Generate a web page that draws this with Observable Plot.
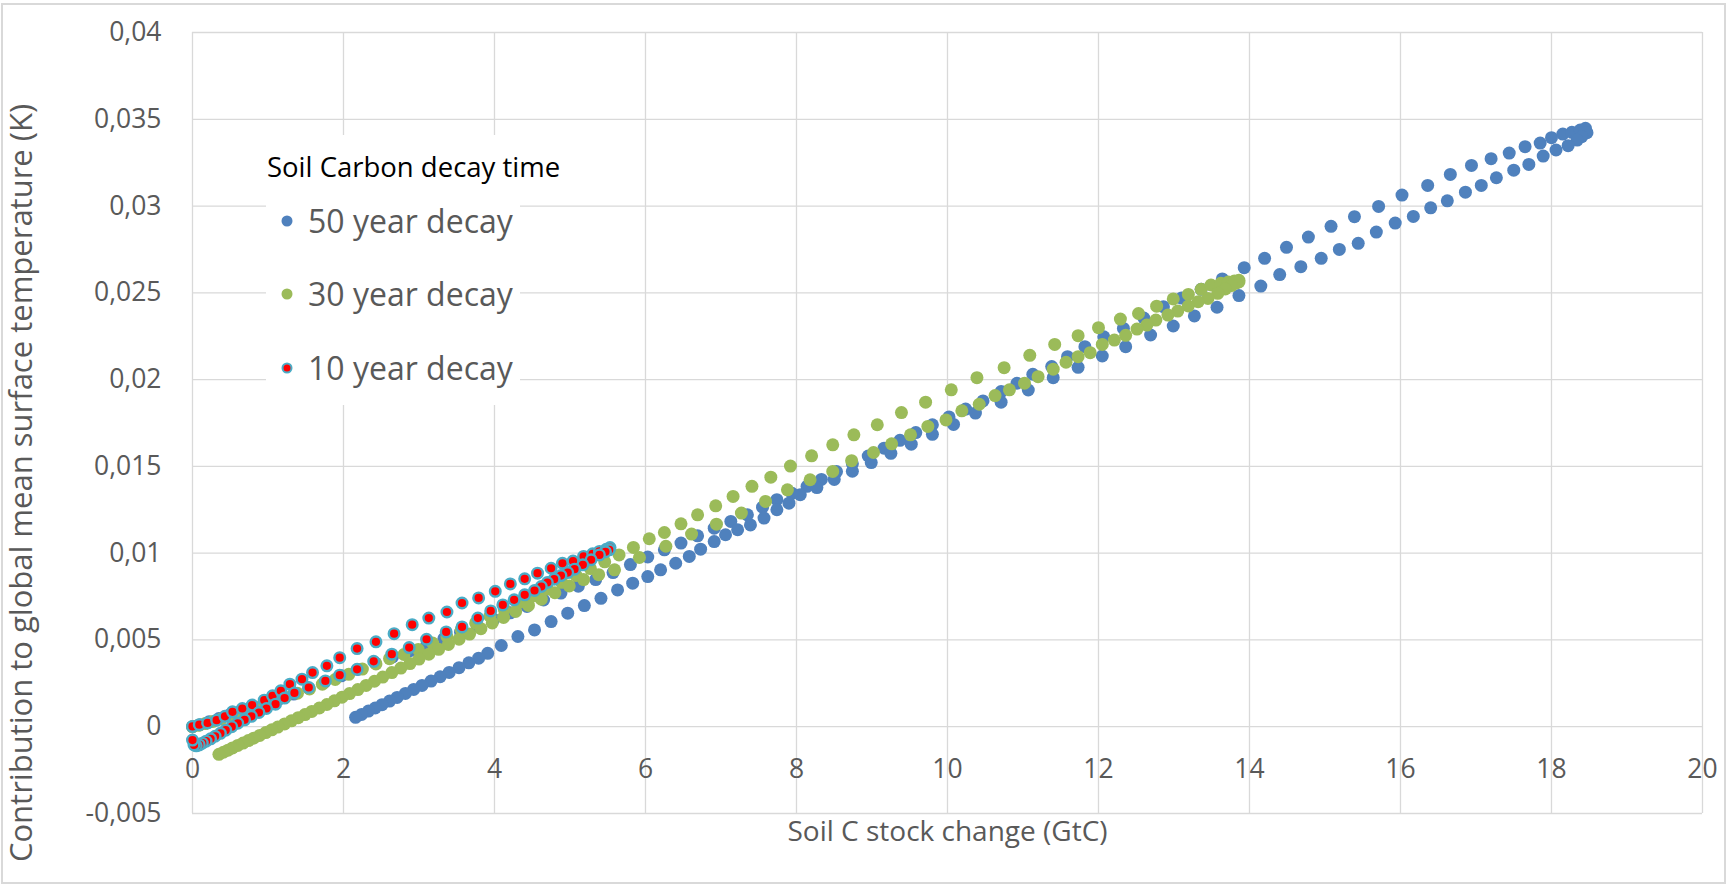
<!DOCTYPE html>
<html><head><meta charset="utf-8">
<script src="https://cdn.jsdelivr.net/npm/d3@7"></script>
<script src="https://cdn.jsdelivr.net/npm/@observablehq/plot@0.6"></script>
<style>
body{margin:0;background:#fff;font-family:"Open Sans",sans-serif;}
#wrap{position:relative;width:1728px;height:886px;overflow:hidden;background:#fff;}
#wrap svg{position:absolute;left:0;top:0;}
#border{position:absolute;left:1px;top:3px;width:1721px;height:877px;border:2px solid #d9d9d9;pointer-events:none;}
#legend{position:absolute;left:266px;top:135px;width:254px;height:270px;background:#fff;}
.lg{position:absolute;white-space:nowrap;transform:translateY(-50%);line-height:1;}
.lgt{font-size:27.5px;color:#000;}
.lgi{font-size:32px;color:#595959;}
.mk{position:absolute;border-radius:50%;transform:translate(-50%,-50%);}
</style></head>
<body><div id="wrap"><div id="border"></div></div>
<script>
// ---- data ----
const xTicks = [0, 2, 4, 6, 8, 10, 12, 14, 16, 18, 20];
const yTicks = [-0.005, 0, 0.005, 0.01, 0.015, 0.02, 0.025, 0.03, 0.035, 0.04];
const xTitle = "Soil C stock change (GtC)";
const yTitle = "Contribution to global mean surface temperature (K)";
const legendTitle = "Soil Carbon decay time";
const seriesNames = ["50 year decay", "30 year decay", "10 year decay"];

// 50 year decay: rising branch (upper row), then return branch (lower, dense at end)
const rise50 = [[0.0,0.0],[0.1,0.00012],[0.22,0.00028],[0.35,0.00047],[0.49,0.00068],[0.64,0.0009],[0.8,0.00113],[0.97,0.00134],[1.15,0.0016],[1.34,0.00188],[1.54,0.00222],[1.75,0.00257],[1.97,0.00293],[2.19,0.0033],[2.42,0.00368],[2.65,0.00403],[2.88,0.00438],[3.1,0.00468],[3.33,0.00508],[3.55,0.00545],[3.77,0.00582],[3.99,0.00619],[4.21,0.00656],[4.43,0.00693],[4.65,0.0073],[4.88,0.0077],[5.11,0.0081],[5.34,0.00848],[5.57,0.00888],[5.8,0.00934],[6.03,0.00978],[6.25,0.01019],[6.47,0.01058],[6.69,0.011],[6.91,0.01144],[7.13,0.01183],[7.35,0.01221],[7.55,0.01265],[7.74,0.01308],[7.94,0.01345],[8.14,0.01385],[8.33,0.01425],[8.53,0.0147],[8.74,0.01515],[8.95,0.0156],[9.16,0.01605],[9.37,0.0165],[9.58,0.01695],[9.8,0.0174],[10.02,0.01785],[10.24,0.0183],[10.47,0.01877],[10.71,0.01931],[10.92,0.01979],[11.13,0.02031],[11.38,0.02075],[11.59,0.02132],[11.82,0.0219],[12.07,0.02247],[12.33,0.02295],[12.6,0.02355],[12.86,0.0242],[13.1,0.0247],[13.36,0.0252],[13.64,0.0258],[13.93,0.02645],[14.2,0.02699],[14.49,0.02762],[14.78,0.02821],[15.08,0.02883],[15.39,0.02939],[15.71,0.02998],[16.02,0.03063],[16.36,0.03119],[16.66,0.03182],[16.94,0.03234],[17.2,0.03273],[17.44,0.03305],[17.65,0.03342],[17.85,0.03363],[18.0,0.03394],[18.15,0.03415],[18.27,0.03425],[18.38,0.03438],[18.45,0.03448]];
const return50 = [[18.47,0.03423],[18.4,0.034],[18.34,0.0338],[18.22,0.03348],[18.06,0.03323],[17.89,0.03288],[17.7,0.0324],[17.5,0.03207],[17.27,0.03163],[17.07,0.03119],[16.86,0.0308],[16.62,0.0303],[16.4,0.0299],[16.17,0.0294],[15.93,0.02902],[15.68,0.0285],[15.44,0.02785],[15.19,0.0275],[14.95,0.02699],[14.68,0.02651],[14.4,0.02605],[14.15,0.02539],[13.86,0.02484],[13.57,0.02417],[13.27,0.02367],[12.99,0.02309],[12.69,0.02257],[12.36,0.0219],[12.05,0.02136],[11.73,0.02071],[11.4,0.02011],[11.07,0.0194],[10.71,0.0187],[10.37,0.01807],[10.08,0.01742],[9.8,0.01685],[9.52,0.01628],[9.25,0.01575],[8.99,0.01522],[8.74,0.01472],[8.5,0.01425],[8.27,0.01378],[8.05,0.01337],[7.9,0.01288],[7.74,0.0125],[7.57,0.01202],[7.39,0.01163],[7.22,0.01135],[7.06,0.01106],[6.91,0.01067],[6.73,0.01023],[6.58,0.00981],[6.4,0.00942],[6.2,0.00904],[6.03,0.00865],[5.83,0.00827],[5.63,0.00788],[5.41,0.0074],[5.19,0.00698],[4.97,0.00654],[4.75,0.00606],[4.53,0.00558],[4.31,0.0052],[4.09,0.00468],[3.91,0.00423],[3.79,0.00395],[3.66,0.00368],[3.53,0.0034],[3.4,0.00313],[3.28,0.00288],[3.16,0.00263],[3.04,0.00238],[2.93,0.00215],[2.82,0.00192],[2.71,0.00169],[2.61,0.00148],[2.51,0.00127],[2.42,0.00108],[2.33,0.0009],[2.24,0.00071],[2.16,0.00054]];

// 30 year decay
const rise30 = [[0.0,0.0],[0.08,0.00008],[0.17,0.00018],[0.27,0.0003],[0.38,0.00044],[0.5,0.0006],[0.63,0.00079],[0.77,0.00099],[0.92,0.00122],[1.07,0.00145],[1.23,0.0017],[1.39,0.00193],[1.55,0.00218],[1.72,0.00245],[1.89,0.00272],[2.07,0.00302],[2.25,0.00332],[2.43,0.00362],[2.61,0.00392],[2.8,0.00416],[2.99,0.00445],[3.18,0.00482],[3.37,0.0052],[3.56,0.00559],[3.75,0.00598],[3.94,0.00637],[4.13,0.00676],[4.32,0.00715],[4.51,0.00754],[4.7,0.00793],[4.89,0.00832],[5.08,0.00872],[5.27,0.00911],[5.46,0.0095],[5.65,0.0099],[5.84,0.01033],[6.05,0.01083],[6.25,0.01119],[6.47,0.01169],[6.69,0.01221],[6.93,0.01273],[7.16,0.01327],[7.41,0.01385],[7.66,0.01438],[7.92,0.01502],[8.2,0.01561],[8.48,0.01624],[8.76,0.01682],[9.07,0.0174],[9.39,0.0181],[9.71,0.0187],[10.05,0.01941],[10.39,0.02011],[10.75,0.02069],[11.09,0.0214],[11.42,0.02203],[11.73,0.02253],[12.0,0.02299],[12.29,0.02349],[12.53,0.02381],[12.77,0.02423],[12.99,0.02465],[13.19,0.02491],[13.36,0.0252],[13.49,0.02545],[13.62,0.02555],[13.72,0.02562],[13.8,0.02568],[13.86,0.02572]];
const return30 = [[13.86,0.02563],[13.82,0.02556],[13.76,0.02542],[13.68,0.02522],[13.58,0.02497],[13.45,0.02468],[13.32,0.02449],[13.19,0.02424],[13.05,0.02395],[12.92,0.02372],[12.76,0.02343],[12.64,0.02314],[12.51,0.02291],[12.36,0.02255],[12.21,0.02228],[12.05,0.02203],[11.89,0.02155],[11.73,0.02132],[11.57,0.021],[11.4,0.0206],[11.2,0.02017],[11.02,0.01979],[10.82,0.01941],[10.63,0.01908],[10.42,0.01858],[10.19,0.0182],[9.98,0.01768],[9.74,0.0173],[9.51,0.01682],[9.26,0.0163],[9.02,0.0158],[8.73,0.01533],[8.48,0.01471],[8.18,0.01423],[7.88,0.01365],[7.59,0.01298],[7.27,0.01231],[6.94,0.01167],[6.61,0.0111],[6.27,0.0104],[5.92,0.00975],[5.59,0.00904],[5.38,0.00876],[5.18,0.00848],[4.99,0.00811],[4.8,0.00772],[4.62,0.00735],[4.45,0.00699],[4.28,0.00664],[4.12,0.0063],[3.97,0.00598],[3.82,0.00565],[3.67,0.00534],[3.53,0.00504],[3.39,0.00474],[3.26,0.00446],[3.13,0.00418],[3.0,0.0039],[2.88,0.00364],[2.76,0.00338],[2.64,0.00312],[2.52,0.00286],[2.41,0.00262],[2.3,0.00238],[2.19,0.00214],[2.08,0.00191],[1.98,0.0017],[1.88,0.00149],[1.78,0.00128],[1.68,0.00108],[1.58,0.00088],[1.49,0.0007],[1.4,0.00052],[1.31,0.00034],[1.22,0.00016],[1.13,-0.00002],[1.05,-0.00018],[0.97,-0.00034],[0.89,-0.0005],[0.81,-0.00066],[0.74,-0.0008],[0.67,-0.00094],[0.6,-0.00108],[0.53,-0.00122],[0.47,-0.00135],[0.41,-0.00147],[0.35,-0.00159]];

// 10 year decay
const rise10 = [[0.0,0.00002],[0.09,0.00012],[0.2,0.00022],[0.32,0.00038],[0.43,0.0006],[0.53,0.00086],[0.66,0.00105],[0.79,0.00125],[0.95,0.00153],[1.06,0.00178],[1.17,0.00207],[1.29,0.00245],[1.45,0.00274],[1.59,0.00312],[1.78,0.00351],[1.95,0.00398],[2.18,0.0045],[2.43,0.00489],[2.67,0.00536],[2.91,0.00588],[3.13,0.00626],[3.37,0.00661],[3.57,0.00713],[3.79,0.00742],[4.01,0.0078],[4.21,0.00823],[4.4,0.00852],[4.57,0.00885],[4.75,0.00913],[4.9,0.00942],[5.04,0.00955],[5.18,0.00981],[5.3,0.00996],[5.39,0.0101],[5.48,0.01022],[5.53,0.01032]];
const return10 = [[5.52,0.01019],[5.47,0.01008],[5.39,0.0099],[5.28,0.00962],[5.17,0.00933],[5.06,0.00908],[4.97,0.00888],[4.88,0.00871],[4.79,0.0085],[4.7,0.00831],[4.62,0.00808],[4.53,0.00785],[4.4,0.0076],[4.26,0.00731],[4.11,0.00702],[3.95,0.00667],[3.78,0.00626],[3.57,0.00575],[3.36,0.00546],[3.1,0.00504],[2.87,0.00456],[2.64,0.00418],[2.4,0.00377],[2.18,0.00331],[1.95,0.00297],[1.76,0.00264],[1.54,0.00226],[1.35,0.00195],[1.22,0.00165],[1.1,0.0013],[0.98,0.00105],[0.88,0.00082],[0.78,0.0006],[0.69,0.0004],[0.6,0.0002],[0.52,0.0],[0.44,-0.0002],[0.37,-0.00038],[0.3,-0.00055],[0.24,-0.0007],[0.18,-0.00083],[0.13,-0.00095],[0.09,-0.00105],[0.05,-0.0011],[0.02,-0.00105],[0.0,-0.00077]];

// ---- styles ----
const C50 = "#4F81BD", C30 = "#9BBB59", C10fill = "#FF0000", C10stroke = "#4BACC6";
const grid = "#D9D9D9", textGray = "#595959", FONT = "Open Sans";
const fmtY = d => d === 0 ? "0" : String(+d.toFixed(3)).replace(".", ",");
const px = d => d[0], py = d => d[1];

const chart = Plot.plot({
  width: 1728, height: 886,
  marginLeft: 192, marginRight: 26, marginTop: 32, marginBottom: 73,
  x: {domain: [0, 20], axis: null},
  y: {domain: [-0.005, 0.04], axis: null},
  style: {fontFamily: FONT, background: "transparent", overflow: "visible"},
  marks: [
    Plot.ruleX(xTicks, {x: d => d, stroke: grid, strokeWidth: 1.3}),
    Plot.ruleY(yTicks, {y: d => d, stroke: grid, strokeWidth: 1.3}),
    Plot.dot(rise50.concat(return50), {x: px, y: py, r: 6.5, fill: C50, stroke: null}),
    Plot.dot(rise30.concat(return30), {x: px, y: py, r: 6.5, fill: C30, stroke: null}),
    Plot.dot(rise10.concat(return10), {x: px, y: py, r: 5.3, fill: C10fill, stroke: C10stroke, strokeWidth: 2.4}),
    Plot.text(yTicks, {y: d => d, frameAnchor: "left", dx: -31, textAnchor: "end", text: fmtY, fontSize: 26.5, fill: textGray, fontFamily: FONT}),
    Plot.text(xTicks, {x: d => d, y: () => 0, dy: 43, text: d => String(d), fontSize: 26.5, fill: textGray, fontFamily: FONT}),
    Plot.text([xTitle], {frameAnchor: "bottom", dy: 27, textAnchor: "middle", text: d => d, fontSize: 28, fill: textGray, fontFamily: FONT}),
    Plot.text([yTitle], {frameAnchor: "left", dx: -170, dy: 60, rotate: -90, textAnchor: "middle", text: d => d, fontSize: 31, fill: textGray, fontFamily: FONT})
  ]
});
const wrap = document.getElementById("wrap");
wrap.insertBefore(chart, wrap.firstChild);

// legend (HTML overlay inside the plot area)
const lg = document.createElement("div");
lg.id = "legend";
wrap.appendChild(lg);
const add = (html, cls, left, top) => {
  const e = document.createElement("div");
  e.className = cls; e.style.left = left + "px"; e.style.top = top + "px";
  e.textContent = html; wrap.appendChild(e); return e;
};
add(legendTitle, "lg lgt", 267, 167);
const legendStyles = [
  {fill: C50, stroke: C50, sw: 0},
  {fill: C30, stroke: C30, sw: 0},
  {fill: C10fill, stroke: C10stroke, sw: 2}
];
const rowsY = [221, 294, 368];
seriesNames.forEach((name, i) => {
  const m = document.createElement("div");
  m.className = "mk";
  const s = legendStyles[i];
  m.style.left = "287px"; m.style.top = rowsY[i] + "px";
  m.style.width = (11 - 2 * s.sw) + "px"; m.style.height = (11 - 2 * s.sw) + "px";
  m.style.background = s.fill;
  m.style.border = s.sw + "px solid " + s.stroke;
  wrap.appendChild(m);
  add(name, "lg lgi", 308, rowsY[i]);
});
</script></body></html>
